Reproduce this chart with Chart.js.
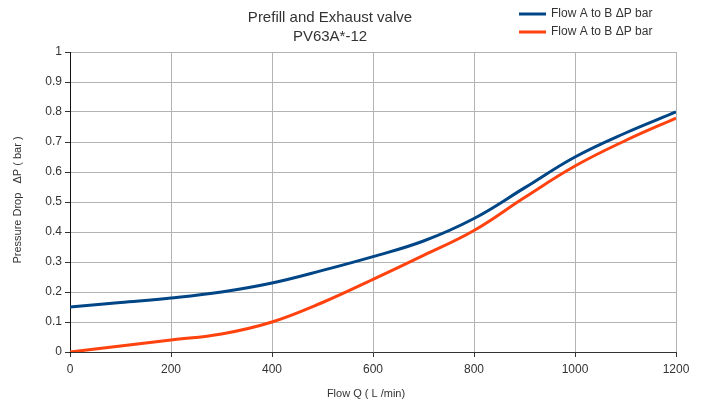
<!DOCTYPE html>
<html>
<head>
<meta charset="utf-8">
<script src="https://cdn.jsdelivr.net/npm/chart.js@4"></script>
<style>
  html, body { margin: 0; padding: 0; background: #fff; }
  #wrap { width: 706px; height: 405px; position: relative; }
</style>
</head>
<body>
<div id="wrap"><canvas id="chart"></canvas></div>
<script>
const flowQ = [0, 100, 200, 300, 400, 500, 600, 700, 800, 900, 1000, 1100, 1200];
const blueDrop = [0.15, 0.165, 0.18, 0.20, 0.23, 0.272, 0.318, 0.37, 0.445, 0.547, 0.65, 0.73, 0.80];
const orangeDrop = [0, 0.02, 0.04, 0.06, 0.10, 0.165, 0.242, 0.322, 0.405, 0.515, 0.62, 0.705, 0.78];
const seriesNames = ["Flow A to B ΔP bar", "Flow A to B ΔP bar"];
const seriesColors = ["#004586", "#ff420e"];
const titleLines = ["Prefill and Exhaust valve", "PV63A*-12"];
const xTitle = "Flow Q ( L /min)";
const yTitle = "Pressure Drop   ΔP ( bar )";

const font = "'Liberation Sans', Arial, sans-serif";

// title, legend and axis titles drawn by hand so they sit where the reference has them
const headerPlugin = {
    id: "header",
    afterDraw(chart) {
        const ctx = chart.ctx;
        ctx.save();
        ctx.fillStyle = "#333";
        ctx.textAlign = "center";
        ctx.textBaseline = "middle";
        ctx.font = "15px " + font;
        ctx.fillText(titleLines[0], 330, 18);
        ctx.fillText(titleLines[1], 330, 37);

        ctx.font = "12px " + font;
        ctx.textAlign = "left";
        seriesNames.forEach((name, i) => {
            const y = 14 + i * 18;
            ctx.strokeStyle = seriesColors[i];
            ctx.lineWidth = 3;
            ctx.beginPath();
            ctx.moveTo(519, y);
            ctx.lineTo(546, y);
            ctx.stroke();
            ctx.fillText(name, 551, y);
        });

        ctx.textAlign = "center";
        ctx.font = "11px " + font;
        ctx.fillText(xTitle, 366, 394);

        ctx.translate(18, 200);
        ctx.rotate(-Math.PI / 2);
        ctx.fillText(yTitle, 0, 0);
        ctx.restore();
    }
};

const data = {
    datasets: seriesNames.map((name, i) => ({
        label: name,
        data: flowQ.map((q, j) => ({ x: q, y: (i === 0 ? blueDrop : orangeDrop)[j] })),
        borderColor: seriesColors[i],
        borderWidth: 3,
        pointRadius: 0,
        fill: false,
        tension: 0.4
    }))
};

new Chart(document.getElementById("chart"), {
    type: "line",
    data,
    options: {
        responsive: true,
        maintainAspectRatio: false,
        animation: false,
        layout: { padding: { top: 52, right: 30, left: 0, bottom: 0 } },
        plugins: {
            legend: { display: false },
            title: { display: false },
            tooltip: { enabled: false }
        },
        scales: {
            x: {
                type: "linear",
                min: 0,
                max: 1200,
                ticks: {
                    stepSize: 200,
                    color: "#333",
                    font: { family: font, size: 12 },
                    padding: 5,
                    callback: v => String(v)
                },
                grid: { color: "#b3b3b3", tickColor: "#333", tickLength: 5 },
                border: { color: "#333" },
                afterFit(scale) { scale.height = 53; }
            },
            y: {
                min: 0,
                max: 1,
                ticks: {
                    stepSize: 0.1,
                    color: "#333",
                    font: { family: font, size: 12 },
                    padding: 3,
                    callback: v => String(Math.round(v * 10) / 10)
                },
                grid: { color: "#b3b3b3", tickColor: "#333", tickLength: 5 },
                border: { color: "#111" },
                afterFit(scale) { scale.width = 70; }
            }
        }
    },
    plugins: [headerPlugin]
});
</script>
</body>
</html>
